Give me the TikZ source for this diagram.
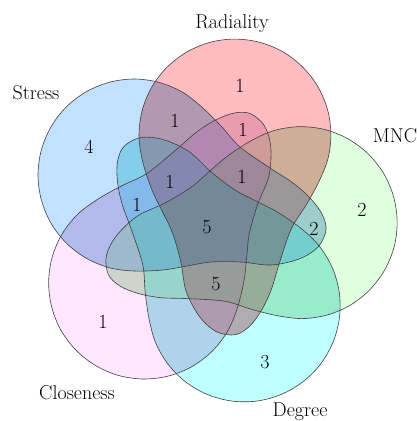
\documentclass[tikz,border=0pt]{standalone}
\usetikzlibrary{positioning}
\definecolor{stresscol}{RGB}{194,224,255}
\definecolor{radcol}{RGB}{255,188,192}
\definecolor{mnccol}{RGB}{224,255,222}
\definecolor{degcol}{RGB}{190,255,255}
\definecolor{clocol}{RGB}{255,230,255}

\begin{document}
\begin{tikzpicture}[x=1pt,y=1pt,
 lbl/.style={font=\fontsize{20}{22}\selectfont,inner sep=0pt,anchor=base},
 num/.style={font=\fontsize{20}{22}\selectfont,inner sep=0pt},
 petal/.style={insert path={plot[smooth cycle,tension=.55] coordinates{(-9.1,114.9) (-29,130.1) (-52.2,139.7) (-77,143) (-101.8,139.7) (-125,130.1) (-144.9,114.9) (-160.1,95) (-169.7,71.8) (-173,47) (-169.7,22.2) (-160.1,-1) (-144.9,-20.9) (-125,-36.1) (-101.8,-45.7) (-77,-49) (-48,-48) (-24,-44) (0,-40) (30,-40) (60,-43) (88,-37) (107,-25) (115,-8) (111,8) (99,24) (82,39) (59,54) (29,75) (10,96)}}},
 rim/.style={draw=black!75,line width=.6pt}]
\useasboundingbox (0,0) rectangle (417,421);
% five sets, one shape turned round the middle
\begin{scope}[blend group=multiply]
\foreach \ang/\col in {0/stresscol,-74/radcol,-149/mnccol,-217/degcol,74/clocol}
 \fill[\col,shift={(211,199)},rotate=\ang,petal];
\end{scope}
% a little shade where two or more sets meet
\begin{scope}[transparency group,opacity=.08]
\foreach \a/\b in {0/-74,0/-149,0/-217,0/74,-74/-149,-74/-217,-74/74,-149/-217,-149/74,-217/74}{
 \begin{scope}
 \clip[shift={(211,199)},rotate=\a,petal];
 \fill[black,shift={(211,199)},rotate=\b,petal];
 \end{scope}}
\end{scope}
\foreach \ang in {0,-74,-149,-217,74}
 \path[rim,shift={(211,199)},rotate=\ang,petal];
% set names
\node[lbl] (radiality) at (232,392) {Radiality};
\node[lbl] (stress) at (36,321) {Stress};
\node[lbl] (mnc) at (395,278) {MNC};
\node[lbl] (closeness) at (77,21) {Closeness};
\node[lbl] (degree) at (300,5) {Degree};
% counts
\node[num] (r1) at (240,335) {1};
\node[num] (s4) at (89,274) {4};
\node[num] (m2) at (362,211) {2};
\node[num] (d3) at (265,59) {3};
\node[num] (c1) at (103,99) {1};
\node[num] (sr) at (175,300) {1};
\node[num] (rc) at (243,291) {1};
\node[num] (a1) at (170,239) {1};
\node[num] (b1) at (242,244) {1};
\node[num] (e1) at (137,216) {1};
\node[num] (all) at (207,194) {5};
\node[num] (sm) at (314,192) {2};
\node[num] (low) at (216,137) {5};
\end{tikzpicture}
\end{document}
